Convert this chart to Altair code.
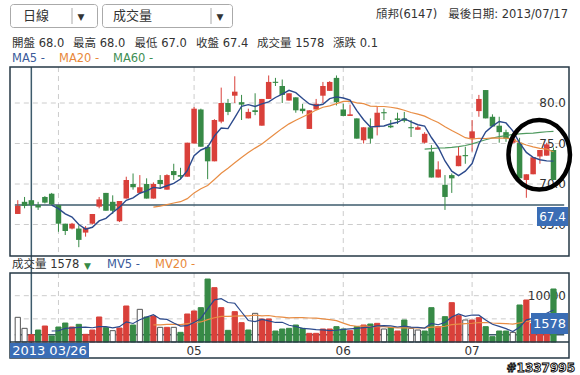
import altair as alt
import pandas as pd

FONT = "DejaVu Sans, Noto Sans CJK TC, sans-serif"

# ---------------- data ----------------
idx = list(range(80))
opens = [66.3, 67.8, 68.0, 67.4, 68.4, 68.8, 67.4, 65.1, 64.5, 64.5,
         64.0, 65.1, 67.2, 68.9, 67.8, 65.4, 68.2, 70.0, 68.9, 70.0,
         68.2, 70.5, 69.3, 71.6, 71.1, 70.9, 75.0, 79.2, 74.6, 72.8,
         77.7, 80.0, 80.9, 80.1, 78.1, 79.1, 77.2, 80.5, 82.6, 82.1,
         80.3, 80.7, 79.3, 76.8, 79.2, 80.9, 81.5, 83.1, 79.2, 78.4,
         78.1, 75.4, 77.0, 77.0, 78.8, 77.2, 78.1, 78.1, 77.0, 76.7,
         75.1, 74.0, 70.8, 69.9, 71.1, 72.2, 73.5, 75.6, 79.0, 81.6,
         78.3, 77.2, 76.4, 75.1, 75.1, 70.5, 71.2, 73.4, 73.5, 74.2]
highs = [68.0, 68.4, 68.0, 67.8, 68.5, 68.9, 67.4, 65.1, 65.2, 64.9,
         64.8, 66.3, 68.4, 68.9, 68.6, 67.9, 70.9, 71.3, 71.1, 70.7,
         70.2, 71.1, 71.2, 72.5, 72.0, 75.1, 79.5, 79.3, 74.8, 78.0,
         81.9, 80.5, 83.3, 81.0, 79.3, 81.2, 80.5, 83.4, 83.1, 82.9,
         81.2, 80.7, 79.9, 79.1, 80.5, 82.6, 82.7, 83.4, 79.9, 79.8,
         78.1, 77.0, 78.1, 79.5, 79.3, 77.9, 78.8, 78.9, 77.9, 77.2,
         76.4, 74.8, 72.8, 71.1, 71.3, 74.6, 74.6, 77.9, 81.0, 81.6,
         78.6, 78.3, 76.7, 76.2, 75.7, 71.2, 73.3, 74.2, 75.1, 74.5]
lows = [66.3, 67.0, 67.0, 66.8, 67.6, 67.4, 64.1, 63.7, 64.4, 62.2,
        63.5, 65.0, 67.0, 66.7, 66.3, 65.3, 68.2, 69.3, 68.8, 68.2,
        68.2, 69.4, 69.3, 70.5, 70.6, 70.9, 75.0, 74.6, 70.6, 72.8,
        77.5, 78.5, 80.0, 77.9, 78.1, 78.5, 77.2, 80.5, 82.1, 80.0,
        80.3, 78.8, 78.7, 76.8, 79.2, 80.0, 81.5, 79.7, 78.4, 78.4,
        75.6, 75.0, 75.0, 76.0, 77.9, 76.9, 77.4, 77.6, 75.8, 76.7,
        75.0, 70.8, 70.8, 66.8, 68.9, 72.2, 72.5, 74.0, 78.3, 78.1,
        77.1, 75.1, 75.2, 75.0, 70.7, 68.3, 71.2, 72.5, 73.5, 70.5]
closes = [67.3, 67.3, 67.4, 67.1, 67.7, 67.5, 65.1, 64.2, 65.1, 63.1,
          64.6, 66.3, 68.1, 66.7, 66.7, 67.9, 70.5, 69.6, 69.6, 68.2,
          70.0, 70.0, 71.1, 71.1, 70.9, 75.1, 79.3, 74.6, 72.8, 77.9,
          80.0, 78.9, 81.4, 79.8, 78.9, 78.9, 80.5, 82.6, 82.5, 81.0,
          81.2, 79.1, 79.0, 79.1, 79.9, 82.1, 82.6, 80.1, 78.4, 78.6,
          75.6, 77.0, 75.6, 78.8, 78.8, 77.0, 77.9, 77.8, 76.9, 77.0,
          76.2, 70.8, 71.8, 68.4, 70.7, 73.5, 73.5, 76.5, 80.5, 78.1,
          77.1, 76.4, 75.6, 75.6, 70.7, 71.2, 73.3, 74.2, 74.9, 70.5]
volumes = [5330, 2950, 1578, 2590, 3456, 1296, 3240, 4100, 3240, 3816,
           1656, 2590, 5400, 3096, 2450, 3024, 7776, 3672, 7056, 5400,
           5616, 3168, 3168, 3168, 2088, 6048, 6696, 7416, 13600, 11736,
           7416, 2520, 6552, 4176, 2592, 6192, 4968, 4968, 2376, 2808,
           2950, 3672, 2952, 1872, 1872, 2808, 2808, 3312, 2808, 2448,
           3312, 3672, 3888, 4032, 2808, 3096, 2376, 4752, 2952, 2592,
           2376, 7416, 3312, 5472, 8496, 5688, 4752, 4752, 5256, 3312,
           1152, 2376, 2376, 2088, 7992, 9072, 4000, 4500, 5500, 11448]
vol_dir = ["flat", "flat", "up", "down", "up", "down", "down", "down", "up", "down",
           "up", "up", "up", "down", "flat", "up", "up", "down", "flat", "down",
           "up", "flat", "up", "flat", "down", "up", "up", "down", "down", "up",
           "up", "down", "up", "up", "down", "flat", "up", "up", "down", "down",
           "down", "down", "down", "up", "up", "up", "up", "down", "down", "up",
           "down", "up", "down", "up", "flat", "down", "up", "down", "flat", "flat",
           "down", "down", "up", "down", "up", "up", "flat", "up", "up", "down",
           "down", "down", "down", "flat", "down", "up", "up", "up", "up", "down"]

month_idx = [26, 48, 67]
month_lab = ["05", "06", "07"]
grid_idx = [6, 26, 48, 67]
price_ticks = [65, 70, 75, 80]
vol_ticks = [5000, 10000]
cross_idx = 2
cross_close = 67.4
cross_vol = 1578
mark_idx = [76.9]      # hand-drawn circle annotation
mark_price = [73.6]

df = pd.DataFrame(dict(idx=idx, open=opens, high=highs, low=lows,
                       close=closes, vol=volumes, vdir=vol_dir))

# ---------------- scales ----------------
XS = alt.Scale(domain=[-1.884, 82.174], nice=False, zero=False)
PY = alt.Scale(domain=[46.42, 92.716], nice=False, zero=False)
VY = alt.Scale(domain=[-7127, 73866], nice=False, zero=False)
P_TOP, P_BOT = 84.44, 61.11
X_L, X_R = -0.435, 80.58
V_TOP, V_BOT = 14903, 0

RED = "#d9403a"
GREEN = "#378a46"
BLUE = "#2c4a8c"
ORANGE = "#e88d44"
MGREEN = "#4f9a5f"
FRAME = "#263945"
CROSS = "#3d5b6c"
LBL = "#3a6db5"
GRID = "#cccccc"

one = alt.Data(values=[{}])


def X(f="idx"):
    return alt.X(f"{f}:Q", scale=XS, axis=None)


def txt(s, x, y, color="#333333", size=12, align="left", weight="normal", **kw):
    return alt.Chart(one).mark_text(
        text=s, color=color, fontSize=size, align=align, baseline="middle",
        font=FONT, fontWeight=weight, **kw
    ).encode(x=alt.value(x), y=alt.value(y))


def box(x1, x2, y1, y2, **kw):
    return alt.Chart(one).mark_rect(**kw).encode(
        x=alt.value(x1), x2=alt.value(x2), y=alt.value(y1), y2=alt.value(y2))


layers = []

# grids
gdf = pd.DataFrame({"g": grid_idx, "t": P_TOP, "b": P_BOT, "vt": V_TOP, "vb": V_BOT})
layers.append(alt.Chart(gdf).mark_rule(color=GRID, strokeDash=[5, 4], strokeWidth=1).encode(
    x=X("g"), y=alt.Y("t:Q", scale=PY, axis=None), y2="b:Q"))
layers.append(alt.Chart(gdf).mark_rule(color=GRID, strokeDash=[5, 4], strokeWidth=1).encode(
    x=X("g"), y=alt.Y("vt:Q", scale=VY, axis=None), y2="vb:Q"))
pt = pd.DataFrame({"v": price_ticks, "l": X_L, "r": X_R})
layers.append(alt.Chart(pt).mark_rule(color=GRID, strokeDash=[5, 4], strokeWidth=1).encode(
    x=X("l"), x2="r:Q", y=alt.Y("v:Q", scale=PY, axis=None)))
vt = pd.DataFrame({"v": vol_ticks, "l": X_L, "r": X_R})
layers.append(alt.Chart(vt).mark_rule(color=GRID, strokeDash=[5, 4], strokeWidth=1).encode(
    x=X("l"), x2="r:Q", y=alt.Y("v:Q", scale=VY, axis=None)))

# crosshair
cdf = pd.DataFrame({"i": [cross_idx], "c": [cross_close], "v": [cross_vol], "l": [X_L], "r": [X_R]})
layers.append(alt.Chart(cdf).mark_rule(color=CROSS, strokeWidth=1.5).encode(
    x=X("i"), y=alt.value(67), y2=alt.value(358)))
layers.append(alt.Chart(cdf).mark_rule(color=CROSS, strokeWidth=1.5).encode(
    x=X("l"), x2="r:Q", y=alt.Y("c:Q", scale=PY, axis=None)))
layers.append(alt.Chart(cdf).mark_rule(color=CROSS, strokeWidth=1.5).encode(
    x=X("l"), x2="r:Q", y=alt.Y("v:Q", scale=VY, axis=None)))

# price axis labels
layers.append(alt.Chart(pt).mark_text(align="right", baseline="middle", fontSize=12, font=FONT,
                                      color="#333333").encode(
    x=alt.value(566), y=alt.Y("v:Q", scale=PY, axis=None), text=alt.Text("v:Q", format=".1f")))
layers.append(alt.Chart(vt).mark_text(align="right", baseline="middle", fontSize=12, font=FONT,
                                      color="#333333").encode(
    x=alt.value(566), y=alt.Y("v:Q", scale=VY, axis=None), text=alt.Text("v:Q", format="d")))

# candles
base = alt.Chart(df)
cand = base.transform_calculate(
    dir="datum.close > datum.open ? 'up' : 'down'",
    top="max(datum.open, datum.close)",
    bot="min(datum.open, datum.close)",
).transform_calculate(
    top2="datum.top - datum.bot < 0.14 ? (datum.top + datum.bot) / 2 + 0.07 : datum.top",
    bot2="datum.top - datum.bot < 0.14 ? (datum.top + datum.bot) / 2 - 0.07 : datum.bot",
)
ccol = alt.Color("dir:N", scale=alt.Scale(domain=["up", "down"], range=[RED, GREEN]), legend=None)
layers.append(cand.mark_rule(strokeWidth=1).encode(
    x=X(), y=alt.Y("low:Q", scale=PY, axis=None), y2="high:Q", color=ccol))
layers.append(cand.mark_bar(size=5.5).encode(
    x=X(), y=alt.Y("top2:Q", scale=PY, axis=None), y2="bot2:Q", color=ccol))

# moving averages on price
def ma_line(n, color, width):
    return base.transform_window(
        m="mean(close)", frame=[-(n - 1), 0], sort=[alt.SortField("idx")]
    ).transform_filter(f"datum.idx >= {n}").mark_line(color=color, strokeWidth=width).encode(
        x=X(), y=alt.Y("m:Q", scale=PY, axis=None))

layers.append(ma_line(60, MGREEN, 1.2))
layers.append(ma_line(20, ORANGE, 1.2))
layers.append(ma_line(5, BLUE, 1.4))

# volume bars
vfill = alt.Fill("vdir:N", scale=alt.Scale(domain=["up", "down", "flat"],
                                            range=[RED, GREEN, "#ffffff"]), legend=None)
vstroke = alt.Stroke("vdir:N", scale=alt.Scale(domain=["up", "down", "flat"],
                                                range=[RED, GREEN, "#555555"]), legend=None)
layers.append(base.mark_bar(size=5.2, strokeWidth=1).encode(
    x=X(), y=alt.Y("vol:Q", scale=VY, axis=None), y2=alt.datum(0), fill=vfill, stroke=vstroke))


def mv_line(n, color, width):
    return base.transform_window(
        m="mean(vol)", frame=[-(n - 1), 0], sort=[alt.SortField("idx")]
    ).transform_filter(f"datum.idx >= {n}").mark_line(color=color, strokeWidth=width).encode(
        x=X(), y=alt.Y("m:Q", scale=VY, axis=None))

layers.append(mv_line(20, ORANGE, 1.2))
layers.append(mv_line(5, BLUE, 1.2))

# volume axis line
layers.append(alt.Chart(one).mark_rule(color=FRAME, strokeWidth=1.5).encode(
    x=alt.value(10), x2=alt.value(569), y=alt.value(342)))

# month labels
mdf = pd.DataFrame({"i": month_idx, "lab": month_lab})
layers.append(alt.Chart(mdf).mark_text(fontSize=12, font=FONT, color="#333333", baseline="middle").encode(
    x=X("i"), y=alt.value(351), text="lab:N"))

# panel frames
layers.append(box(10, 569, 67, 256, fill=None, stroke=FRAME, strokeWidth=1.5))
layers.append(box(10, 569, 273, 358, fill=None, stroke=FRAME, strokeWidth=1.5))

# crosshair value labels
layers.append(box(537, 568, 207, 226, fill=LBL))
layers.append(txt("67.4", 552.5, 216.5, color="white", size=12, align="center"))
layers.append(box(531, 568, 313, 334, fill=LBL))
layers.append(txt("1578", 549.5, 323.5, color="white", size=13, align="center"))
layers.append(box(10, 89, 343, 358, fill=LBL))
layers.append(txt("2013 03/26", 49.5, 351, color="white", size=13, align="center"))

# header UI
layers.append(box(10.5, 97.5, 4.5, 27.5, fill="white", stroke="#aaaaaa", cornerRadius=3))
layers.append(alt.Chart(one).mark_rule(color="#aaaaaa").encode(x=alt.value(72), y=alt.value(8), y2=alt.value(24)))
layers.append(txt("日線", 23, 16, size=13))
layers.append(txt("▼", 81, 16.5, size=9, align="center"))
layers.append(box(102.5, 232.5, 4.5, 27.5, fill="white", stroke="#aaaaaa", cornerRadius=3))
layers.append(alt.Chart(one).mark_rule(color="#aaaaaa").encode(x=alt.value(211), y=alt.value(8), y2=alt.value(24)))
layers.append(txt("成交量", 113, 16, size=13))
layers.append(txt("▼", 220, 16.5, size=9, align="center"))
layers.append(txt("頎邦(6147)\u00a0\u00a0\u00a0最後日期: 2013/07/17", 568, 15, size=11.5, align="right"))

info = [("開盤 68.0", 12), ("最高 68.0", 73), ("最低 67.0", 134.5), ("收盤 67.4", 196),
        ("成交量 1578", 257), ("漲跌 0.1", 333)]
for s, x in info:
    layers.append(txt(s, x, 44, size=11.5))
layers.append(txt("MA5 -", 12, 59, color="#3b5b9b", size=11.5))
layers.append(txt("MA20 -", 59, 59, color="#e8883a", size=11.5))
layers.append(txt("MA60 -", 113, 59, color="#3f8f55", size=11.5))

layers.append(txt("成交量 1578", 12, 265, size=11.5))
layers.append(txt("▼", 84, 265.5, color=GREEN, size=9))
layers.append(txt("MV5 -", 107, 265, color="#3b5b9b", size=11.5))
layers.append(txt("MV20 -", 155, 265, color="#e8883a", size=11.5))

# hand-drawn circle annotation
edf = pd.DataFrame({"i": mark_idx, "p": mark_price})
ellipse = "M-0.885,0A0.885,1 0 1,0 0.885,0A0.885,1 0 1,0 -0.885,0Z"
layers.append(alt.Chart(edf).mark_point(shape=ellipse, size=4830, filled=False,
                                        stroke="black", strokeWidth=4.5, opacity=1).encode(
    x=X("i"), y=alt.Y("p:Q", scale=PY, axis=None)))

# watermark
layers.append(txt("#1337995", 575, 368, color="white", size=12, align="right", weight="bold",
                  stroke="black", strokeWidth=0.9))

chart = alt.layer(*layers).resolve_scale(y="independent").properties(
    width=580, height=375, autosize=alt.AutoSizeParams(type="none"), padding=0,
    background="white"
).configure_view(stroke=None)

chart.save("out.html", embed_options={"renderer": "svg", "actions": False})
